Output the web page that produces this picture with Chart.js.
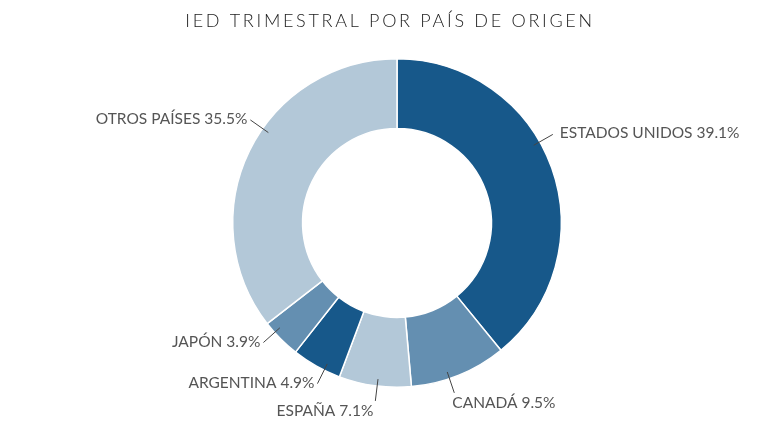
<!DOCTYPE html>
<html>
<head>
<meta charset="utf-8">
<script src="https://cdn.jsdelivr.net/npm/chart.js@4"></script>
<style>
  html, body { margin: 0; padding: 0; background: #fff; }
  #wrap { width: 779px; height: 444px; position: relative; }
</style>
</head>
<body>
<div id="wrap"><canvas id="chartIed"></canvas></div>
<script>
const titulo = "IED TRIMESTRAL POR PAÍS DE ORIGEN";
const paises = ["ESTADOS UNIDOS", "CANADÁ", "ESPAÑA", "ARGENTINA", "JAPÓN", "OTROS PAÍSES"];
const porcentajes = [39.1, 9.5, 7.1, 4.9, 3.9, 35.5];
const colores = ["#17588a", "#648fb1", "#b3c8d8", "#17588a", "#648fb1", "#b3c8d8"];

// ajuste del angulo de la linea guia (grados)
const ajusteAngulo = [-10, 3.5, -0.8, -3, 3, 9];

const etiquetas = {
    id: "etiquetas",
    afterDraw(chart) {
        const ctx = chart.ctx;
        const meta = chart.getDatasetMeta(0);
        ctx.save();
        ctx.letterSpacing = "0px";
        ctx.font = "15.5px Lato";
        ctx.fillStyle = "#555";
        ctx.strokeStyle = "#444";
        ctx.lineWidth = 1;
        meta.data.forEach(function (arc, i) {
            const a = (arc.startAngle + arc.endAngle) / 2 + ajusteAngulo[i] * Math.PI / 180;
            const r0 = arc.outerRadius - 7;
            const r1 = arc.outerRadius + 15;
            const x0 = arc.x + Math.cos(a) * r0, y0 = arc.y + Math.sin(a) * r0;
            const x1 = arc.x + Math.cos(a) * r1, y1 = arc.y + Math.sin(a) * r1;
            ctx.beginPath();
            ctx.moveTo(x0, y0);
            ctx.lineTo(x1, y1);
            ctx.stroke();
            const texto = paises[i] + " " + porcentajes[i] + "%";
            const derecha = Math.cos(a) >= 0;
            const abajo = Math.sin(a) > 0.9;
            ctx.textAlign = derecha ? "left" : "right";
            ctx.textBaseline = "middle";
            if (abajo) {
                ctx.fillText(texto, x1 - 2, y1 + 10);
            } else {
                ctx.fillText(texto, x1 + (derecha ? 7 : -3), y1 - 1);
            }
        });
        // titulo
        ctx.font = "300 18px Lato";
        ctx.letterSpacing = "2.7px";
        ctx.fillStyle = "#222";
        ctx.textAlign = "center";
        ctx.textBaseline = "middle";
        ctx.fillText(titulo, 390, 21);
        ctx.restore();
    }
};

new Chart(document.getElementById("chartIed").getContext("2d"), {
    type: "doughnut",
    data: {
        labels: paises,
        datasets: [{
            data: porcentajes,
            backgroundColor: colores,
            borderColor: "#fff",
            borderWidth: 1.5,
        }],
    },
    options: {
        responsive: true,
        maintainAspectRatio: false,
        animation: false,
        cutout: "57.5%",
        layout: { padding: { top: 58, bottom: 56, left: 30, right: 15 } },
        plugins: {
            legend: { display: false },
            tooltip: { enabled: false },
        },
    },
    plugins: [etiquetas],
});
</script>
</body>
</html>
